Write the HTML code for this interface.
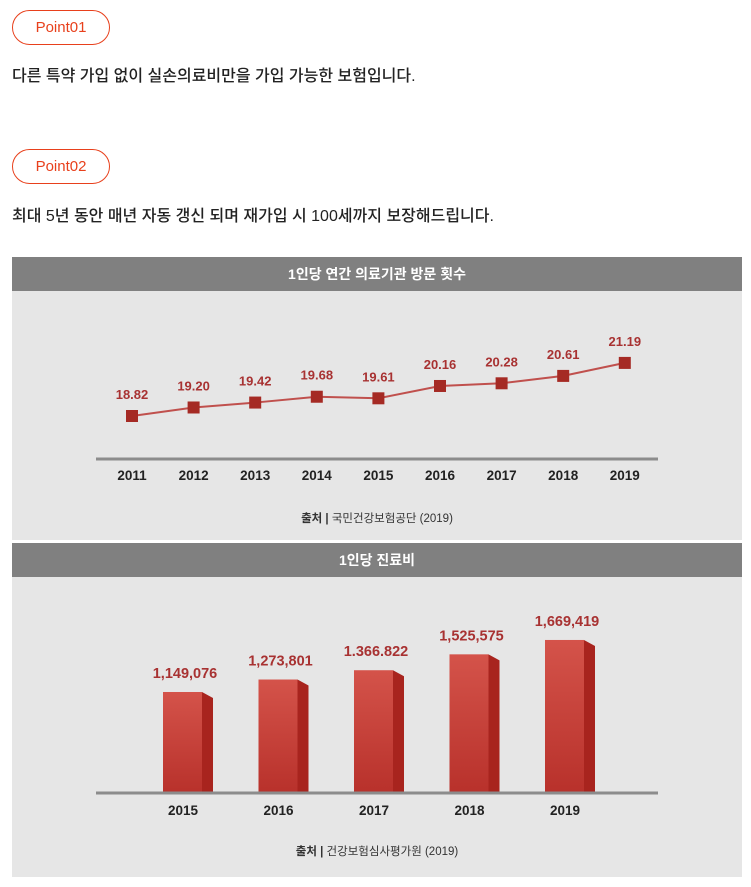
<!DOCTYPE html>
<html><head><meta charset="utf-8"><style>
body{margin:0;width:751px;height:887px;background:#fff;font-family:"Liberation Sans","Noto Sans CJK KR",sans-serif;position:relative;overflow:hidden}
.pt{position:absolute;left:12px;width:96px;height:33px;border:1px solid #e8401c;border-radius:18px;color:#e8401c;font-size:15px;line-height:33px;text-align:center}
.tx{position:absolute;left:12px;font-size:16px;color:#222;font-weight:500}
</style></head><body>
<div class="pt" style="top:10px">Point01</div>
<div class="tx" style="top:62px">다른 특약 가입 없이 실손의료비만을 가입 가능한 보험입니다.</div>
<div class="pt" style="top:149px">Point02</div>
<div class="tx" style="top:202px">최대 5년 동안 매년 자동 갱신 되며 재가입 시 100세까지 보장해드립니다.</div>
<svg width="751" height="887" style="position:absolute;left:0;top:0" font-family="Liberation Sans, Noto Sans CJK KR, sans-serif">
<defs><linearGradient id="gf" x1="0" y1="0" x2="0" y2="1"><stop offset="0" stop-color="#d4534a"/><stop offset="1" stop-color="#b8312b"/></linearGradient></defs>
<rect x="12" y="257" width="730" height="283" fill="#e6e6e6"/>
<rect x="12" y="257" width="730" height="34" fill="#808080"/>
<text x="377" y="279" fill="#fff" font-size="14" font-weight="bold" text-anchor="middle">1인당 연간 의료기관 방문 횟수</text>
<line x1="96" y1="459" x2="658" y2="459" stroke="#8c8c8c" stroke-width="3"/>
<g id="lc"></g>
<text x="377" y="522" font-size="11.5" fill="#333" text-anchor="middle"><tspan font-weight="bold">출처 |</tspan> 국민건강보험공단 (2019)</text>
<rect x="12" y="543" width="730" height="334" fill="#e6e6e6"/>
<rect x="12" y="543" width="730" height="34" fill="#808080"/>
<text x="377" y="565" fill="#fff" font-size="14" font-weight="bold" text-anchor="middle">1인당 진료비</text>
<g id="bc"></g>
<line x1="96" y1="793" x2="658" y2="793" stroke="#8c8c8c" stroke-width="3"/>
<text x="377" y="855" font-size="11.5" fill="#333" text-anchor="middle"><tspan font-weight="bold">출처 |</tspan> 건강보험심사평가원 (2019)</text>
</svg>
<script>
const lineYears=["2011","2012","2013","2014","2015","2016","2017","2018","2019"];
const lineValues=[18.82,19.20,19.42,19.68,19.61,20.16,20.28,20.61,21.19];
const lineLabels=["18.82","19.20","19.42","19.68","19.61","20.16","20.28","20.61","21.19"];
const barYears=["2015","2016","2017","2018","2019"];
const barValues=[1149076,1273801,1366822,1525575,1669419];
const barLabels=["1,149,076","1,273,801","1.366.822","1,525,575","1,669,419"];
const NS="http://www.w3.org/2000/svg";
function mk(p,t,a){const e=document.createElementNS(NS,t);for(const k in a)e.setAttribute(k,a[k]);p.appendChild(e);return e;}
const lx=i=>132+i*61.6, ly=v=>416-(v-18.82)*22.4;
const lc=document.getElementById('lc');
const pl=mk(lc,'polyline',{points:lineValues.map((v,i)=>lx(i)+','+ly(v)).join(' '),fill:'none',stroke:'#c0504d','stroke-width':2});


lineValues.forEach((v,i)=>{
 const r=mk(lc,'rect',{x:lx(i)-6,y:ly(v)-6,width:12,height:12,fill:'#a52a24'});
 
 
 const t=mk(lc,'text',{x:lx(i),y:ly(v)-17,'font-size':13,'font-weight':'bold',fill:'#a83232','text-anchor':'middle'});t.textContent=lineLabels[i];
 
 
 const y=mk(lc,'text',{x:lx(i),y:480,'font-size':13.5,'font-weight':'bold',fill:'#222','text-anchor':'middle'});y.textContent=lineYears[i];
 
 
});
const bc=document.getElementById('bc');
const bx=i=>182+i*95.5, by=v=>793-(v-139000)*1.0e-4;
barValues.forEach((v,i)=>{
 const c=bx(i),top=by(v),l=c-19;
 const f=mk(bc,'rect',{x:l,y:top,width:39,height:793-top,fill:'url(#gf)'});
 
 
 const s=mk(bc,'polygon',{points:`${l+39},${top} ${l+50},${top+6} ${l+50},793 ${l+39},793`,fill:'#a8241e'});
 
 
 const t=mk(bc,'text',{x:c+3,y:top-14,'font-size':14.5,'font-weight':'bold',fill:'#a83232','text-anchor':'middle'});t.textContent=barLabels[i];
 
 
 const y=mk(bc,'text',{x:c+1,y:815,'font-size':13.5,'font-weight':'bold',fill:'#222','text-anchor':'middle'});y.textContent=barYears[i];
 
 
});
</script>
</body></html>
